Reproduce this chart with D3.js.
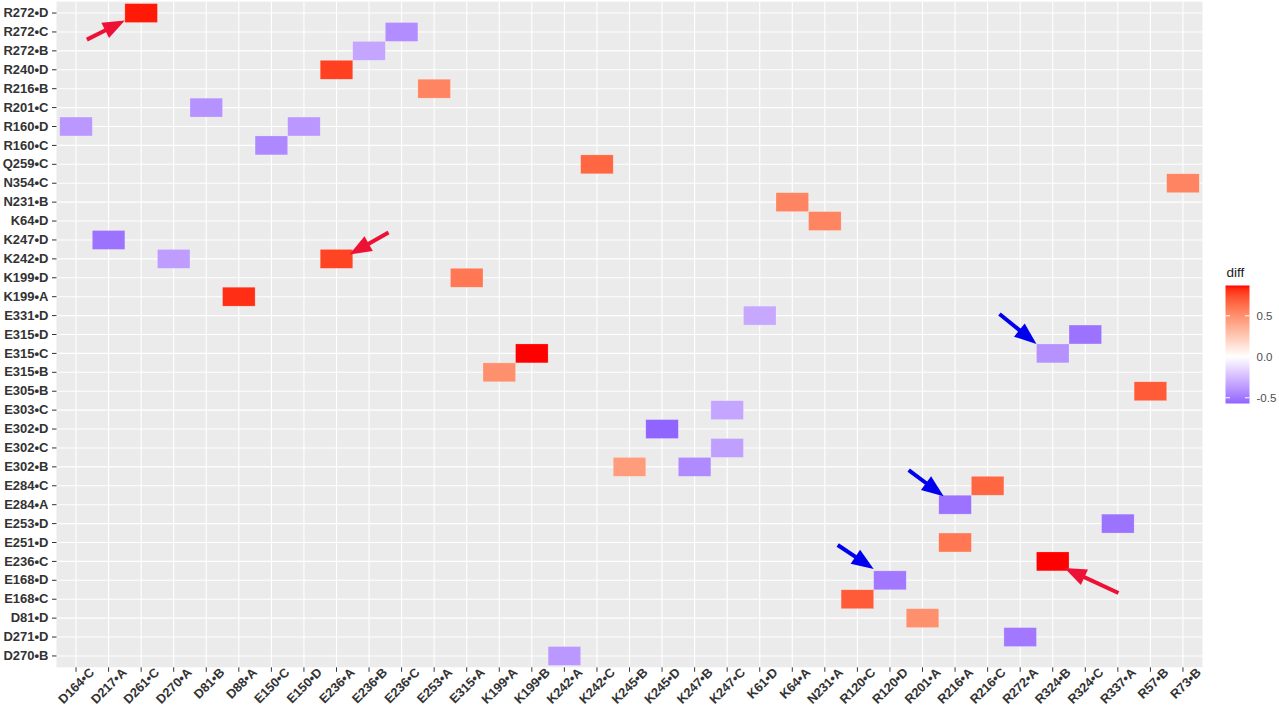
<!DOCTYPE html>
<html>
<head>
<meta charset="utf-8">
<script src="https://cdn.jsdelivr.net/npm/d3@7"></script>
<style>
  body { margin: 0; background: #fff; }
  text { font-family: "Liberation Sans", Arial, sans-serif; }
</style>
</head>
<body>
<svg width="1279" height="710"></svg>
<script>
// categories on each axis
const xCategories = ["D164•C","D217•A","D261•C","D270•A","D81•B","D88•A","E150•C","E150•D","E236•A","E236•B","E236•C","E253•A","E315•A","K199•A","K199•B","K242•A","K242•C","K245•B","K245•D","K247•B","K247•C","K61•D","K64•A","N231•A","R120•C","R120•D","R201•A","R216•A","R216•C","R272•A","R324•B","R324•C","R337•A","R57•B","R73•B"];
const yCategories = ["R272•D","R272•C","R272•B","R240•D","R216•B","R201•C","R160•D","R160•C","Q259•C","N354•C","N231•B","K64•D","K247•D","K242•D","K199•D","K199•A","E331•D","E315•D","E315•C","E315•B","E305•B","E303•C","E302•D","E302•C","E302•B","E284•C","E284•A","E253•D","E251•D","E236•C","E168•D","E168•C","D81•D","D271•D","D270•B"];

// tiles
const tileX = ["D261•C","E236•C","E236•B","E236•A","E253•A","D81•B","D164•C","E150•C","E150•D","K242•C","R73•B","K64•A","N231•A","D217•A","D270•A","E236•A","E315•A","D88•A","K61•D","R324•C","R324•B","K199•B","K199•A","R57•B","K247•C","K245•D","K247•C","K245•B","K247•B","R216•C","R216•A","R337•A","R216•A","R324•B","R120•D","R120•C","R201•A","R272•A","K242•A"];
const tileY = ["R272•D","R272•C","R272•B","R240•D","R216•B","R201•C","R160•D","R160•C","R160•D","Q259•C","N354•C","N231•B","K64•D","K247•D","K242•D","K242•D","K199•D","K199•A","E331•D","E315•D","E315•C","E315•C","E315•B","E305•B","E303•C","E302•D","E302•C","E302•B","E302•B","E284•C","E284•A","E253•D","E251•D","E236•C","E168•D","E168•C","D81•D","D271•D","D270•B"];
const tileDiff = [0.85,-0.42,-0.33,0.78,0.55,-0.40,-0.38,-0.44,-0.38,0.66,0.55,0.55,0.55,-0.52,-0.36,0.77,0.60,0.82,-0.32,-0.52,-0.40,0.87,0.50,0.70,-0.33,-0.57,-0.35,0.45,-0.43,0.66,-0.52,-0.52,0.60,0.87,-0.50,0.70,0.50,-0.50,-0.38];

const legendTicks = [0.5, 0.0, -0.5];

// annotation arrows (target tile + colour)
const arrowX = ["D261•C","E236•A","R324•B","R324•B","R216•A","R120•D"];
const arrowY = ["R272•D","K242•D","E236•C","E315•C","E284•A","E168•D"];
const arrowColor = ["#ee1136","#ee1136","#ee1136","#0000ee","#0000ee","#0000ee"];
const arrowTip = [[0,0.9],[0.9,0.27],[0.86,0.85],[0,0],[0.15,0.05],[0,-0.1]];
const arrowTail = [[-38,19],[39,-22],[54,25],[-37,-30],[-35,-26],[-36,-24]];

const svg = d3.select("svg");
const panel = { left: 56.5, right: 1202.5, top: 1.7, bottom: 667.3 };

const x = d3.scaleBand().domain(xCategories).range([panel.left, panel.right]).paddingOuter(0.1);
const y = d3.scaleBand().domain(yCategories).range([panel.top, panel.bottom]).paddingOuter(0.1);

const extent = d3.extent(tileDiff);
const maxAbs = d3.max(extent, Math.abs);
const color = (v) => v >= 0
  ? d3.interpolateLab("#ffffff", "#ff0000")(v / maxAbs)
  : d3.interpolateLab("#ffffff", "#0000ff")(-v / maxAbs);

// panel background
svg.append("rect")
  .attr("x", panel.left).attr("y", panel.top)
  .attr("width", panel.right - panel.left).attr("height", panel.bottom - panel.top)
  .attr("fill", "#ebebeb");

// grid lines
const grid = svg.append("g").attr("stroke", "#fff").attr("stroke-width", 1.1);
grid.selectAll(".gx").data(xCategories).join("line")
  .attr("x1", d => x(d) + x.bandwidth() / 2).attr("x2", d => x(d) + x.bandwidth() / 2)
  .attr("y1", panel.top).attr("y2", panel.bottom);
grid.selectAll(".gy").data(yCategories).join("line")
  .attr("y1", d => y(d) + y.bandwidth() / 2).attr("y2", d => y(d) + y.bandwidth() / 2)
  .attr("x1", panel.left).attr("x2", panel.right);

// tiles
svg.append("g").selectAll("rect").data(tileDiff).join("rect")
  .attr("x", (d, i) => x(tileX[i]))
  .attr("y", (d, i) => y(tileY[i]))
  .attr("width", x.bandwidth())
  .attr("height", y.bandwidth())
  .attr("fill", d => color(d))
  .attr("stroke", "rgba(255,255,255,0.35)")
  .attr("stroke-width", 0.6);

// axes
const yAxis = svg.append("g")
  .attr("transform", `translate(${panel.left},0)`)
  .call(d3.axisLeft(y).tickSize(4.5).tickPadding(3.5));
yAxis.select(".domain").remove();
yAxis.selectAll("line").attr("stroke", "#333");
yAxis.selectAll("text")
  .attr("fill", "#333").attr("font-size", 13).attr("font-weight", "bold")
  .style("font-family", "'Liberation Sans', Arial, sans-serif");

const xAxis = svg.append("g")
  .attr("transform", `translate(0,${panel.bottom})`)
  .call(d3.axisBottom(x).tickSize(4.5).tickPadding(3));
xAxis.select(".domain").remove();
xAxis.selectAll("line").attr("stroke", "#333");
xAxis.selectAll("text")
  .attr("fill", "#333").attr("font-size", 12.8).attr("font-weight", "bold")
  .style("font-family", "'Liberation Sans', Arial, sans-serif")
  .attr("text-anchor", "end")
  .attr("x", 0).attr("y", 0)
  .attr("transform", "translate(12.5,-0.5) rotate(-45)")
  .attr("dx", 0).attr("dy", "0.71em");

// arrows
const arrows = svg.append("g");
arrowX.forEach((cx, i) => {
  const tx = x(cx) + arrowTip[i][0] * x.bandwidth();
  const ty = y(arrowY[i]) + arrowTip[i][1] * y.bandwidth();
  const sx = tx + arrowTail[i][0], sy = ty + arrowTail[i][1];
  const ang = Math.atan2(ty - sy, tx - sx);
  const headLen = 22, headW = 8.5;
  const bx = tx - headLen * Math.cos(ang), by = ty - headLen * Math.sin(ang);
  arrows.append("line")
    .attr("x1", sx).attr("y1", sy).attr("x2", bx + 2 * Math.cos(ang)).attr("y2", by + 2 * Math.sin(ang))
    .attr("stroke", arrowColor[i]).attr("stroke-width", 4);
  const px = -Math.sin(ang), py = Math.cos(ang);
  arrows.append("path")
    .attr("d", `M${tx},${ty}L${bx + px * headW},${by + py * headW}L${bx - px * headW},${by - py * headW}Z`)
    .attr("fill", arrowColor[i]);
});

// legend
const leg = { x: 1225.5, w: 24, top: 285.5, bottom: 403.5 };
const ly = d3.scaleLinear().domain(extent).range([leg.bottom, leg.top]);
const defs = svg.append("defs");
const grad = defs.append("linearGradient").attr("id", "cbar")
  .attr("x1", 0).attr("y1", 1).attr("x2", 0).attr("y2", 0);
d3.range(0, 1.0001, 0.02).forEach(t => {
  const v = extent[0] + t * (extent[1] - extent[0]);
  grad.append("stop").attr("offset", t).attr("stop-color", color(v));
});
svg.append("text").attr("x", leg.x + 1).attr("y", 277)
  .attr("font-size", 13.5).attr("fill", "#1a1a1a").text("diff");
svg.append("rect").attr("x", leg.x).attr("y", leg.top)
  .attr("width", leg.w).attr("height", leg.bottom - leg.top)
  .attr("fill", "url(#cbar)");
const lt = svg.append("g");
legendTicks.forEach(v => {
  lt.append("line").attr("x1", leg.x).attr("x2", leg.x + 4.5)
    .attr("y1", ly(v)).attr("y2", ly(v)).attr("stroke", "#fff").attr("stroke-width", 1);
  lt.append("line").attr("x1", leg.x + leg.w - 4.5).attr("x2", leg.x + leg.w)
    .attr("y1", ly(v)).attr("y2", ly(v)).attr("stroke", "#fff").attr("stroke-width", 1);
  lt.append("text").attr("x", leg.x + leg.w + 7).attr("y", ly(v)).attr("dy", "0.35em")
    .attr("font-size", 11.5).attr("fill", "#4d4d4d").text(v.toFixed(1));
});
</script>
</body>
</html>
